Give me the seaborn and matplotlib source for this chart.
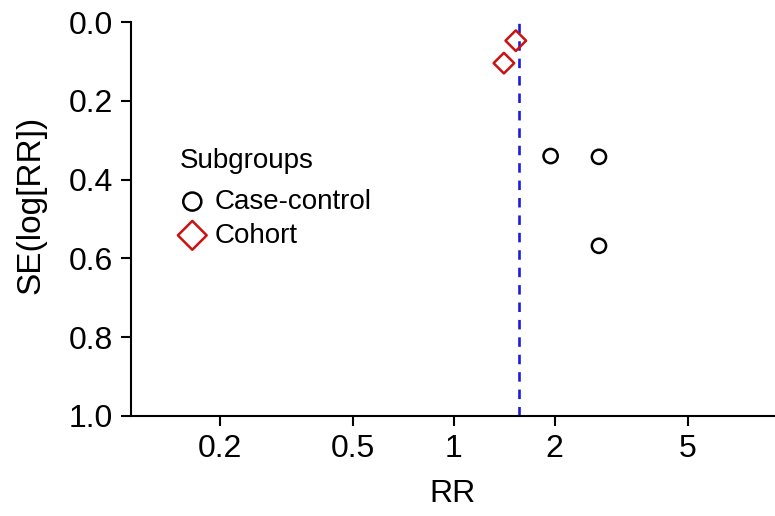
import numpy as np
import pandas as pd
import matplotlib
matplotlib.use("Agg")
import matplotlib.pyplot as plt
import seaborn as sns
from matplotlib.ticker import FixedLocator, NullLocator

# Data
cc_rr = [1.944, 2.71, 2.71]
cc_se = [0.340, 0.342, 0.568]
co_rr = [1.53, 1.41]
co_se = [0.047, 0.104]
pooled_rr = 1.563
x_ticks = [0.2, 0.5, 1, 2, 5]
x_tick_labels = ["0.2", "0.5", "1", "2", "5"]
y_ticks = [0.0, 0.2, 0.4, 0.6, 0.8, 1.0]
y_tick_labels = ["0.0", "0.2", "0.4", "0.6", "0.8", "1.0"]

df = pd.DataFrame({
    "RR": cc_rr + co_rr,
    "SE": cc_se + co_se,
    "Subgroups": ["Case-control"] * len(cc_rr) + ["Cohort"] * len(co_rr),
})

sns.set_style("ticks")
plt.rcParams["font.family"] = ["Liberation Sans", "DejaVu Sans"]
plt.rcParams["text.color"] = "black"
plt.rcParams["axes.labelcolor"] = "black"

fig = plt.figure(figsize=(7.75, 5.16), dpi=100)
ax = fig.add_axes([0.169, 0.194, 0.831, 0.763])

red = "#CC1111"
sns.scatterplot(data=df[df.Subgroups == "Case-control"], x="RR", y="SE", marker="o",
                s=105, facecolors="none", edgecolor="black", linewidth=1.8,
                label="Case-control", ax=ax, zorder=3)
sns.scatterplot(data=df[df.Subgroups == "Cohort"], x="RR", y="SE", marker="D",
                s=110, facecolors="none", edgecolor=red, linewidth=1.8,
                label="Cohort", ax=ax, zorder=3)

ax.axvline(pooled_rr, color="#1c1ce0", linestyle=(0, (3.6, 3)), linewidth=1.9, zorder=2)

ax.set_xscale("log")
ax.set_xlim(0.1086, 9.09)
ax.set_ylim(1.0, 0.0)
ax.xaxis.set_major_locator(FixedLocator(x_ticks))
ax.xaxis.set_minor_locator(NullLocator())
ax.set_xticklabels(x_tick_labels)
ax.set_yticks(y_ticks)
ax.set_yticklabels(y_tick_labels)

for side in ["top", "right"]:
    ax.spines[side].set_visible(False)
for side in ["left", "bottom"]:
    ax.spines[side].set_linewidth(1.5)
    ax.spines[side].set_color("black")
ax.tick_params(axis="both", which="major", length=7.5, width=1.5, color="black",
               labelsize=23, labelcolor="black", pad=5.5)

ax.set_xlabel("RR", fontsize=23)
ax.set_ylabel("SE(log[RR])", fontsize=24)
ax.xaxis.set_label_coords(0.5, -0.16)
ax.yaxis.set_label_coords(-0.132, 0.535)

leg = ax.legend(title="Subgroups", loc="upper left", bbox_to_anchor=(0.232, 0.714),
                bbox_transform=fig.transFigure, frameon=False, fontsize=20,
                title_fontsize=20, alignment="left", handletextpad=0.36,
                borderpad=0, borderaxespad=0, labelspacing=0.28, handlelength=0.9)
leg._legend_box.sep = 11
hs = leg.legend_handles
hs[0].set_sizes([169])
hs[1].set_sizes([215])

fig.savefig("out.png", dpi=100)
